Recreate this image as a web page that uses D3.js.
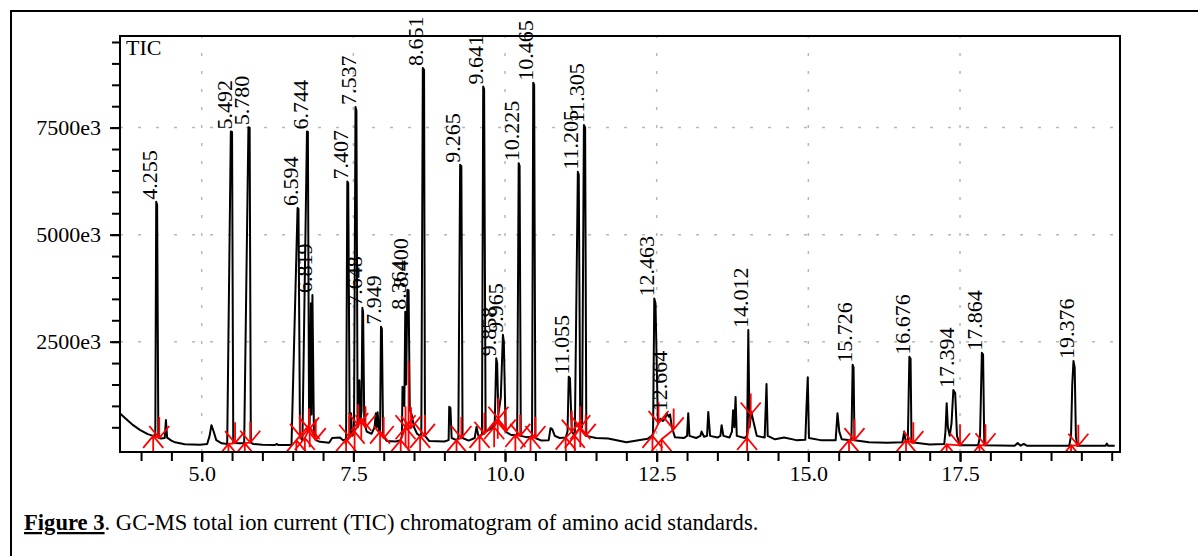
<!DOCTYPE html>
<html>
<head>
<meta charset="utf-8">
<script src="https://cdn.jsdelivr.net/npm/d3@7"></script>
<style>
  body { margin: 0; background: #fff; }
  svg { display: block; font-family: "Liberation Serif", "Times New Roman", serif; }
</style>
</head>
<body>
<div id="chart"></div>
<script>
// Retention time (min) vs intensity (in e3 counts)
const trace = [
  [3.65, 830], [3.74, 710], [3.87, 550], [3.98, 440], [4.11, 340], [4.20, 300],
  [4.235, 320], [4.25, 5770], [4.265, 5700], [4.285, 260], [4.33, 240], [4.39, 250],
  [4.41, 670], [4.43, 260], [4.50, 190], [4.56, 150], [4.72, 105], [4.97, 95],
  [5.09, 110], [5.13, 300], [5.16, 550], [5.19, 430], [5.24, 200], [5.33, 125],
  [5.42, 110], [5.48, 7410], [5.50, 7400], [5.52, 140], [5.60, 130],
  [5.70, 130], [5.77, 7510], [5.79, 7500], [5.81, 140], [5.85, 110], [6.00, 90],
  [6.20, 85], [6.24, 110], [6.26, 85], [6.45, 85],
  [6.48, 95], [6.58, 5620], [6.595, 5600], [6.62, 300],
  [6.66, 200], [6.735, 7410], [6.75, 7400], [6.77, 500],
  [6.78, 600], [6.80, 3400], [6.81, 800], [6.825, 3590], [6.85, 300], [6.88, 200],
  [6.95, 160], [7.10, 140], [7.15, 250], [7.28, 260], [7.33, 200],
  [7.38, 220], [7.40, 6240], [7.415, 6200], [7.44, 300],
  [7.46, 830], [7.48, 300],
  [7.51, 350], [7.535, 7980], [7.55, 7900], [7.57, 500],
  [7.59, 700], [7.60, 1600], [7.615, 600], [7.635, 900], [7.648, 3290], [7.66, 3200],
  [7.68, 600], [7.72, 400], [7.80, 350], [7.85, 500], [7.87, 830], [7.88, 500],
  [7.90, 850], [7.92, 400],
  [7.94, 400], [7.955, 2850], [7.97, 2800], [7.99, 300],
  [8.05, 180], [8.20, 170], [8.28, 200],
  [8.30, 300], [8.31, 1450], [8.33, 1400], [8.34, 1000], [8.355, 3200], [8.37, 1500],
  [8.39, 3710], [8.41, 3700], [8.43, 900], [8.46, 800], [8.50, 500], [8.55, 350], [8.60, 300],
  [8.62, 350], [8.645, 8890], [8.665, 8850], [8.68, 300],
  [8.75, 180], [9.00, 170], [9.07, 200], [9.08, 980], [9.10, 950], [9.12, 250], [9.20, 200],
  [9.23, 250], [9.26, 6630], [9.28, 6600], [9.30, 250], [9.40, 190], [9.50, 250],
  [9.53, 510], [9.56, 300], [9.60, 300],
  [9.62, 350], [9.64, 8460], [9.655, 8400], [9.68, 400], [9.75, 450], [9.80, 500],
  [9.83, 600], [9.855, 2110], [9.87, 2000], [9.89, 800], [9.93, 1200],
  [9.965, 2660], [9.98, 2500], [10.01, 400],
  [10.10, 320], [10.19, 320],
  [10.20, 350], [10.225, 6670], [10.24, 6600], [10.26, 300], [10.35, 270], [10.43, 280],
  [10.445, 300], [10.465, 8550], [10.48, 8500], [10.50, 250], [10.60, 190], [10.72, 200],
  [10.75, 480], [10.78, 450], [10.82, 300], [10.90, 250], [11.00, 260],
  [11.03, 400], [11.05, 1680], [11.07, 1650], [11.10, 400],
  [11.15, 300], [11.20, 6470], [11.215, 6400], [11.24, 500],
  [11.27, 500], [11.30, 7560], [11.32, 7500], [11.34, 300],
  [11.50, 250], [11.70, 240], [12.00, 150], [12.20, 200], [12.35, 230], [12.42, 300],
  [12.44, 350], [12.46, 3510], [12.48, 3400], [12.52, 600], [12.56, 700], [12.60, 650],
  [12.64, 700], [12.664, 830], [12.70, 750], [12.72, 800], [12.75, 500], [12.80, 270],
  [12.95, 250], [13.00, 300], [13.02, 830], [13.04, 300], [13.15, 250], [13.22, 300],
  [13.24, 400], [13.28, 280], [13.33, 300], [13.35, 860], [13.38, 300], [13.50, 260],
  [13.55, 300], [13.57, 550], [13.60, 300], [13.70, 260], [13.74, 400], [13.76, 900],
  [13.78, 500], [13.80, 1210], [13.82, 300], [13.95, 250],
  [13.99, 300], [14.01, 2770], [14.03, 500], [14.06, 860], [14.10, 600], [14.15, 300],
  [14.28, 260], [14.31, 1510], [14.33, 300], [14.45, 220], [14.60, 260], [14.80, 200],
  [14.95, 210], [14.97, 1000], [14.99, 1670], [15.01, 250], [15.20, 200], [15.45, 200],
  [15.48, 830], [15.51, 400], [15.55, 220], [15.70, 200],
  [15.71, 250], [15.73, 1960], [15.745, 1900], [15.76, 200], [16.00, 150], [16.30, 140],
  [16.55, 150], [16.58, 400], [16.60, 200],
  [16.64, 200], [16.665, 2150], [16.685, 2100], [16.70, 150], [17.00, 100], [17.24, 110],
  [17.26, 400], [17.28, 1060], [17.30, 500], [17.33, 300], [17.36, 600], [17.39, 1370],
  [17.42, 1300], [17.45, 300], [17.50, 80], [17.80, 80],
  [17.83, 300], [17.86, 2240], [17.88, 2200], [17.90, 80], [18.40, 70], [18.45, 130],
  [18.50, 70], [18.55, 110], [18.60, 70], [19.30, 70],
  [19.33, 300], [19.35, 1500], [19.37, 2050], [19.39, 1900], [19.41, 300], [19.43, 70],
  [19.90, 70], [19.92, 120], [19.94, 70], [20.05, 70]
];

// Labelled peaks: retention time, label and apex height (e3)
const peakRT = [4.255, 5.492, 5.780, 6.594, 6.744, 6.819, 7.407, 7.537, 7.648, 7.949,
  8.364, 8.400, 8.651, 9.265, 9.641, 9.858, 9.965, 10.225, 10.465, 11.055, 11.205,
  11.305, 12.463, 12.664, 14.012, 15.726, 16.676, 17.394, 17.864, 19.376];
const peakLabel = ["4.255", "5.492", "5.780", "6.594", "6.744", "6.819", "7.407", "7.537",
  "7.648", "7.949", "8.364", "8.400", "8.651", "9.265", "9.641", "9.858", "9.965",
  "10.225", "10.465", "11.055", "11.205", "11.305", "12.463", "12.664", "14.012",
  "15.726", "16.676", "17.394", "17.864", "19.376"];
const peakHeight = [5770, 7410, 7510, 5620, 7410, 3590, 6240, 7980, 3290, 2850, 3200,
  3710, 8890, 6630, 8460, 2110, 2660, 6670, 8550, 1680, 6470, 7560, 3510, 830, 2770,
  1960, 2150, 1370, 2240, 2050];

// Integration start / end points [time, level]
const peakStart = [[4.20, 300], [5.44, 110], [5.71, 130], [6.56, 200], [6.70, 250],
  [6.78, 500], [7.38, 220], [7.52, 400], [7.63, 700], [7.94, 400], [8.28, 200],
  [8.36, 500], [8.60, 300], [9.20, 200], [9.58, 300], [9.82, 500], [9.88, 700],
  [10.17, 320], [10.42, 280], [11.00, 260], [11.15, 300], [11.24, 500], [12.43, 300],
  [12.58, 220], [13.99, 250], [15.67, 200], [16.61, 200], [17.28, 100], [17.82, 80],
  [19.33, 80]];
const peakEnd = [[4.30, 250], [5.55, 130], [5.80, 140], [6.62, 300], [6.77, 450],
  [6.88, 200], [7.43, 280], [7.58, 550], [7.70, 500], [8.00, 250], [8.36, 500],
  [8.45, 480], [8.68, 300], [9.28, 250], [9.66, 350], [9.89, 700], [10.01, 400],
  [10.25, 300], [10.50, 250], [11.10, 400], [11.24, 500], [11.33, 300], [12.53, 600],
  [12.78, 450], [14.05, 800], [15.76, 200], [16.73, 130], [17.50, 80], [17.92, 80],
  [19.45, 70]];
const dropLines = [[8.41, 2040]];

const xMajor = [5.0, 7.5, 10.0, 12.5, 15.0, 17.5];
const yMajor = [2500, 5000, 7500];
const yLabels = ["2500e3", "5000e3", "7500e3"];

const W = 1198, H = 556;
const plot = { left: 120, right: 1120, top: 36, bottom: 452 };

const svg = d3.select("#chart").append("svg")
  .attr("width", W).attr("height", H);

// outer figure frame
svg.append("rect")
  .attr("x", 11).attr("y", 11).attr("width", 1210).attr("height", 600)
  .attr("fill", "none").attr("stroke", "#000").attr("stroke-width", 2);

const x = d3.scaleLinear().domain([3.653, 20.137]).range([plot.left, plot.right]);
const y = d3.scaleLinear().domain([-77, 9640]).range([plot.bottom, plot.top]);

svg.append("clipPath").attr("id", "clip")
  .append("rect")
  .attr("x", plot.left).attr("y", plot.top)
  .attr("width", plot.right - plot.left).attr("height", plot.bottom - plot.top);

// grid
const grid = svg.append("g").attr("stroke", "#b8b8b8").attr("stroke-width", 1.5)
  .attr("stroke-dasharray", "3,15");
grid.selectAll(".gx").data(xMajor).enter().append("line")
  .attr("x1", d => x(d)).attr("x2", d => x(d))
  .attr("y1", plot.bottom).attr("y2", plot.top);
grid.selectAll(".gy").data(yMajor).enter().append("line")
  .attr("y1", d => y(d)).attr("y2", d => y(d))
  .attr("x1", plot.left).attr("x2", plot.right);

// axes
const fontSize = 22;
function styleAxis(g) {
  g.select(".domain").remove();
  g.selectAll(".tick line").attr("stroke", "#000").attr("stroke-width", 2);
  g.selectAll(".tick text").attr("fill", "#000")
    .style("font-size", fontSize + "px").style("font-family", "Liberation Serif, serif");
}

svg.append("g").attr("transform", `translate(0,${plot.bottom})`)
  .call(d3.axisBottom(x).tickValues(d3.range(4, 20.01, 0.5)).tickSize(9).tickFormat(""))
  .call(styleAxis);
svg.append("g").attr("transform", `translate(0,${plot.bottom})`)
  .call(d3.axisBottom(x).tickValues(xMajor).tickSize(10).tickPadding(3)
    .tickFormat(d3.format(".1f")))
  .call(styleAxis);

svg.append("g").attr("transform", `translate(${plot.left},0)`)
  .call(d3.axisLeft(y).tickValues(d3.range(500, 9501, 500)).tickSize(8).tickFormat(""))
  .call(styleAxis);
svg.append("g").attr("transform", `translate(${plot.left},0)`)
  .call(d3.axisLeft(y).tickValues(yMajor).tickSize(10).tickPadding(9)
    .tickFormat((d, i) => yLabels[i]))
  .call(styleAxis);

// trace
const line = d3.line().x(d => x(d[0])).y(d => y(d[1]));
svg.append("path")
  .datum(trace)
  .attr("clip-path", "url(#clip)")
  .attr("fill", "none")
  .attr("stroke", "#000")
  .attr("stroke-width", 2)
  .attr("stroke-linejoin", "round")
  .attr("d", line);

// integration markers
const marks = svg.append("g").attr("clip-path", "url(#clip)")
  .attr("stroke", "#ff0000").attr("stroke-width", 1.8).attr("fill", "none");

marks.selectAll(".base").data(peakStart).enter().append("line")
  .attr("x1", d => x(d[0])).attr("y1", d => y(d[1]))
  .attr("x2", (d, i) => x(peakEnd[i][0])).attr("y2", (d, i) => y(peakEnd[i][1]));

// start: arrow pointing up from below
marks.selectAll(".start").data(peakStart).enter().append("path")
  .attr("d", d => {
    const px = x(d[0]), py = y(d[1]);
    return `M${px},${py + 20}L${px},${py}M${px - 10},${py + 12}L${px},${py}L${px + 10},${py + 12}`;
  });
// end: arrow pointing down from above
marks.selectAll(".end").data(peakEnd).enter().append("path")
  .attr("d", d => {
    const px = x(d[0]), py = y(d[1]);
    return `M${px},${py - 21}L${px},${py}M${px - 10},${py - 12}L${px},${py}L${px + 10},${py - 12}`;
  });
marks.selectAll(".drop").data(dropLines).enter().append("line")
  .attr("x1", d => x(d[0])).attr("x2", d => x(d[0]))
  .attr("y1", d => y(d[1])).attr("y2", plot.bottom);

// plot frame
svg.append("rect")
  .attr("x", plot.left).attr("y", plot.top)
  .attr("width", plot.right - plot.left).attr("height", plot.bottom - plot.top)
  .attr("fill", "none").attr("stroke", "#000").attr("stroke-width", 2);

// peak labels
svg.append("g").selectAll("text").data(peakRT).enter().append("text")
  .attr("transform", (d, i) => `translate(${x(d)},${y(peakHeight[i]) - 2}) rotate(-90)`)
  .attr("text-anchor", "start")
  .style("font-size", fontSize + "px")
  .text((d, i) => peakLabel[i]);

svg.append("text")
  .attr("x", 126).attr("y", 55)
  .style("font-size", fontSize + "px")
  .text("TIC");

// caption
const cap = svg.append("text").attr("x", 24).attr("y", 530).style("font-size", "22.6px");
cap.append("tspan").attr("font-weight", "bold").attr("text-decoration", "underline")
  .text("Figure 3");
cap.append("tspan").text(". GC-MS total ion current (TIC) chromatogram of amino acid standards.");
</script>
</body>
</html>
